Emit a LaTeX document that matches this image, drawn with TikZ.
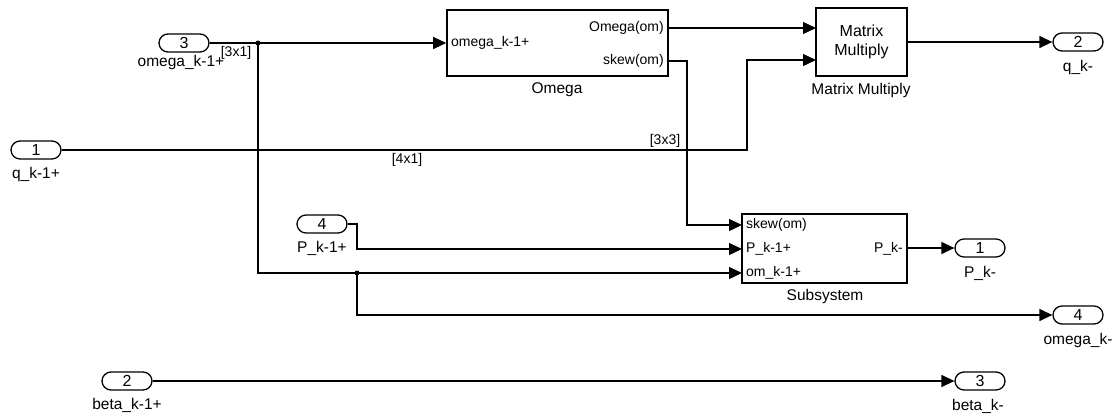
\documentclass[tikz,border=0pt]{standalone}
\usepackage{fontspec}
\setmainfont{Liberation Sans}
\usetikzlibrary{arrows.meta,calc}
\begin{document}
\begin{tikzpicture}[x=1pt,y=-1pt,
  port/.style={draw,line width=1.3pt,rounded corners=9pt,minimum width=50pt,minimum height=18pt,inner sep=0pt,font=\fontsize{16}{18}\selectfont},
  blk/.style={draw,line width=1.6pt,inner sep=0pt},
  lbl/.style={inner sep=0pt,font=\fontsize{15.5}{18}\selectfont},
  plbl/.style={inner sep=0pt,font=\fontsize{14}{16}\selectfont},
  wire/.style={line width=1.3pt},
  arr/.style={wire,-{Triangle[length=13pt,width=12pt]}},
  dot/.style={circle,fill,inner sep=0pt,minimum size=5pt}]
\useasboundingbox (0,0) rectangle (1119,415);
% ports
\node[port] (in3) at (184,43) {3};
\node[lbl] (in3l) at (181,62) {omega\_k-1+};
\node[port] (in1) at (36,150) {1};
\node[lbl] (in1l) at (36,174) {q\_k-1+};
\node[port] (in4) at (322,224) {4};
\node[lbl] (in4l) at (322,248) {P\_k-1+};
\node[port] (in2) at (127,381) {2};
\node[lbl] (in2l) at (127,405) {beta\_k-1+};
\node[port] (out2) at (1078,42) {2};
\node[lbl] (out2l) at (1078,67) {q\_k-};
\node[port] (out1) at (980,248) {1};
\node[lbl] (out1l) at (980,273) {P\_k-};
\node[port] (out4) at (1078,315) {4};
\node[lbl] (out4l) at (1078,340) {omega\_k-};
\node[port] (out3) at (980,381) {3};
\node[lbl] (out3l) at (978,406) {beta\_k-};
% blocks
\node[blk,minimum width=221pt,minimum height=66pt] (Om) at (557.5,43) {};
\node[lbl] (Oml) at (557,90) {Omega};
\node[plbl,anchor=west] (Omin) at (451,43) {omega\_k-1+};
\node[plbl,anchor=east] (Omo1) at (664,28) {Omega(om)};
\node[plbl,anchor=east] (Omo2) at (664,61) {skew(om)};
\node[blk,minimum width=91pt,minimum height=68pt,align=center,font=\fontsize{16}{19}\selectfont] (MM) at (861.5,42) {Matrix\\Multiply};
\node[lbl] (MMl) at (861,90) {Matrix Multiply};
\node[blk,minimum width=165pt,minimum height=69pt] (SS) at (824.5,248.5) {};
\node[lbl] (SSl) at (825,296) {Subsystem};
\node[plbl,anchor=west] (SSi1) at (746,225) {skew(om)};
\node[plbl,anchor=west] (SSi2) at (746,249) {P\_k-1+};
\node[plbl,anchor=west] (SSi3) at (746,273) {om\_k-1+};
\node[plbl,anchor=east] (SSo) at (903,249) {P\_k-};
% signal dimension labels
\node[plbl] (d31) at (236,53) {[3x1]};
\node[plbl] (d41) at (407,160) {[4x1]};
\node[plbl] (d33) at (665,141) {[3x3]};
% coordinates
\coordinate (om1) at (668,28);
\coordinate (om2) at (668,61);
\coordinate (sk) at (687,61);
\coordinate (mm1) at (816,28);
\coordinate (mm2) at (816,60);
\coordinate (t1) at (747,150);
\coordinate (ss1) at (742,225);
\coordinate (ss2) at (742,249);
\coordinate (ss3) at (742,273);
\coordinate (p1) at (357,224);
\node[dot] (b1) at (258,43) {};
\node[dot] (b2) at (357,273) {};
% connectors
\draw[arr] (in3.east) -- (Om.west);
\draw[arr] (om1) -- (mm1);
\draw[arr] (in1.east) -- (t1) |- (mm2);
\draw[arr] (MM.east) -- (out2.west);
\draw[arr] (om2) -- (sk) |- (ss1);
\draw[arr] (in4.east) -- (p1) |- (ss2);
\draw[arr] (b1.center) |- (ss3);
\draw[arr] (b2.center) |- (out4.west);
\draw[arr] (SS.east |- out1) -- (out1.west);
\draw[arr] (in2.east) -- (out3.west);
\end{tikzpicture}
\end{document}
